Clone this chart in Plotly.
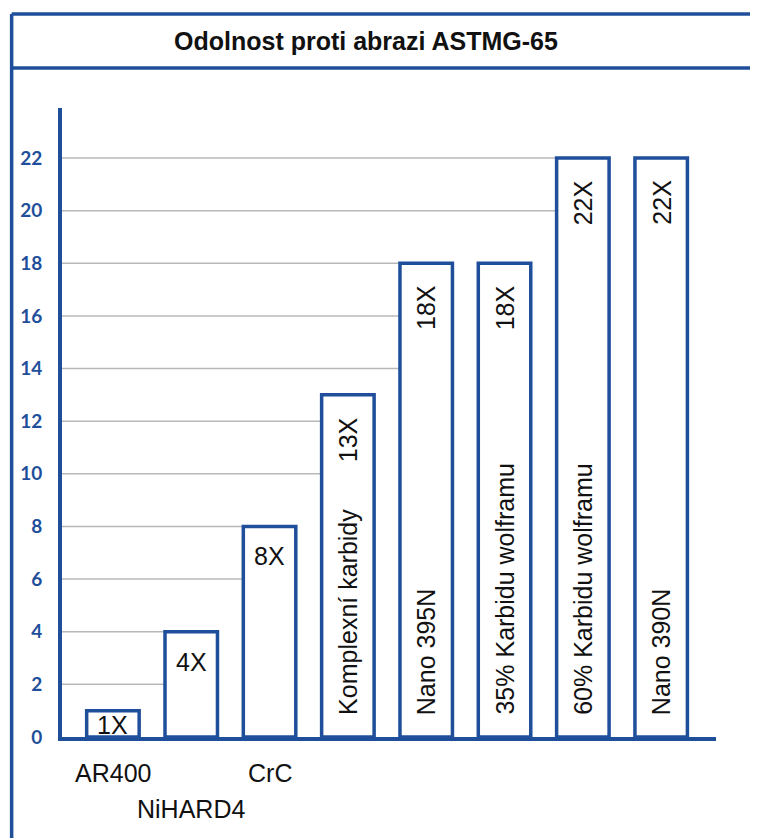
import plotly.graph_objects as go

categories = ["AR400", "NiHARD4", "CrC", "Komplexní karbidy", "Nano 395N",
              "35% Karbidu wolframu", "60% Karbidu wolframu", "Nano 390N"]
values = [1, 4, 8, 13, 18, 18, 22, 22]
value_labels = ["1X", "4X", "8X", "13X", "18X", "18X", "22X", "22X"]
tick_values = [0, 2, 4, 6, 8, 10, 12, 14, 16, 18, 20, 22]
title_text = "Odolnost proti abrazi ASTMG-65"

BLUE = "#1f4f9b"
GRID = "#b8b8b8"
TXT = dict(family="Liberation Sans, Arial, sans-serif", size=25, color="#111111")
BAR_W = 0.67
X_RANGE = [-0.65, 7.7]
Y_RANGE = [0, 23.9]

xs = list(range(len(categories)))

fig = go.Figure()
fig.add_trace(go.Bar(
    x=xs, y=values, width=BAR_W,
    marker=dict(color="white", line=dict(color=BLUE, width=3.5)),
    hoverinfo="skip", showlegend=False,
))

shapes = []
# gridlines that run from the axis to the first bar that reaches them
for v in tick_values[1:]:
    idx = next((i for i, val in enumerate(values) if val >= v), None)
    if idx is None:
        continue
    shapes.append(dict(type="line", xref="x", yref="y", layer="below",
                       x0=X_RANGE[0], x1=xs[idx] - BAR_W / 2, y0=v, y1=v,
                       line=dict(color=GRID, width=1.5)))

# outer frame and title band
shapes.append(dict(type="line", xref="paper", yref="paper",
                   x0=-0.077, x1=1.2, y0=1.1494, y1=1.1494,
                   line=dict(color=BLUE, width=3.5)))
shapes.append(dict(type="line", xref="paper", yref="paper",
                   x0=-0.077, x1=1.2, y0=1.0636, y1=1.0636,
                   line=dict(color=BLUE, width=3.5)))
shapes.append(dict(type="line", xref="paper", yref="paper",
                   x0=-0.077, x1=-0.077, y0=1.1494, y1=-0.3,
                   line=dict(color=BLUE, width=3.5)))

annotations = [dict(text=title_text, xref="paper", yref="paper",
                    x=0.465, y=1.1065, showarrow=False,
                    xanchor="center", yanchor="middle",
                    font=dict(family="Liberation Sans, Arial, sans-serif",
                              size=25, color="#111111", weight="bold"))]

row = 0
for i, (cat, val, lab) in enumerate(zip(categories, values, value_labels)):
    if val >= 10:
        annotations.append(dict(text=cat, x=xs[i], y=0, xref="x", yref="y",
                                showarrow=False, textangle=-90,
                                xanchor="center", yanchor="bottom", yshift=20,
                                font=TXT))
        annotations.append(dict(text=lab, x=xs[i], y=val, xref="x", yref="y",
                                showarrow=False, textangle=-90,
                                xanchor="center", yanchor="top", yshift=-20,
                                font=TXT))
    else:
        annotations.append(dict(text=cat, x=xs[i], y=0, xref="x", yref="y",
                                showarrow=False, xanchor="center", yanchor="top",
                                yshift=-20 - 36 * (row % 2), font=TXT))
        row += 1
        if val < 2:
            annotations.append(dict(text=lab, x=xs[i], y=val / 2, xref="x", yref="y",
                                    showarrow=False, xanchor="center", yanchor="middle",
                                    yshift=-1, font=TXT))
        else:
            annotations.append(dict(text=lab, x=xs[i], y=val, xref="x", yref="y",
                                    showarrow=False, xanchor="center", yanchor="top",
                                    yshift=-14, font=TXT))

fig.update_layout(
    width=750, height=830,
    margin=dict(l=52, r=42, t=100, b=101),
    paper_bgcolor="white", plot_bgcolor="white",
    shapes=shapes, annotations=annotations,
    xaxis=dict(range=X_RANGE, showgrid=False, zeroline=False, showticklabels=False,
               showline=True, linecolor=BLUE, linewidth=4, ticks="", fixedrange=True),
    yaxis=dict(range=Y_RANGE, tickvals=tick_values, showgrid=False, zeroline=False,
               showline=True, linecolor=BLUE, linewidth=4, ticks="",
               ticklabelstandoff=12,
               tickfont=dict(family="Lato, sans-serif", size=19, color=BLUE, weight="bold"),
               fixedrange=True),
)

fig.write_html("out.html")
